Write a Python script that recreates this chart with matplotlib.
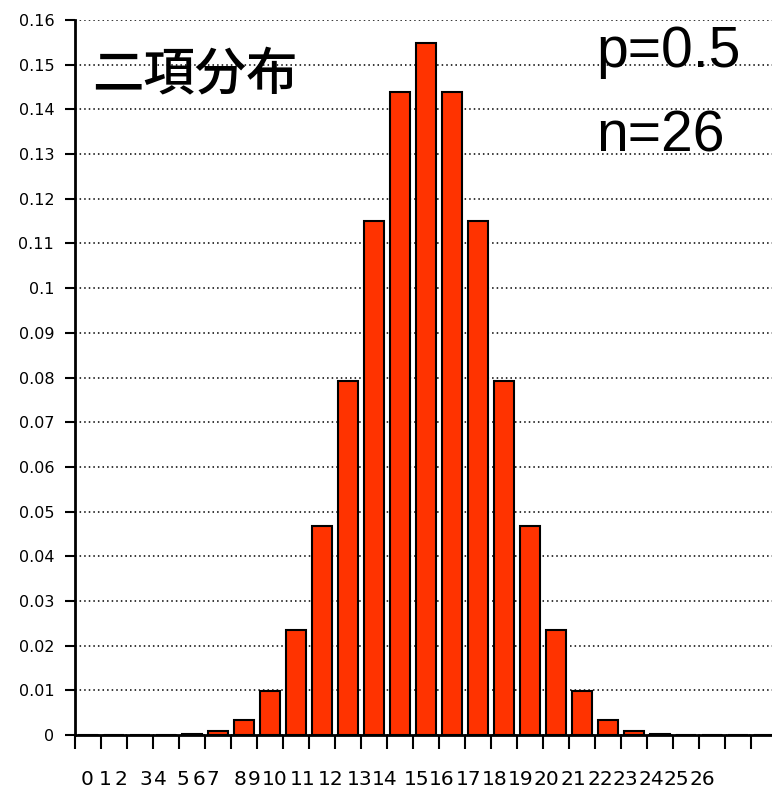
import matplotlib.pyplot as plt
import numpy as np

# Дані: біноміальний розподіл
k = list(range(27))
prob = [0, 0, 0, 0.00004, 0.0002, 0.001, 0.0034, 0.0099, 0.0234, 0.0467,
        0.0792, 0.1151, 0.1439, 0.1549, 0.1439, 0.1151, 0.0792, 0.0467,
        0.0234, 0.0099, 0.0034, 0.001, 0.0002, 0.00004, 0, 0, 0]
x_labels = [str(i) for i in k]
# де стоять підписи осі x (у них зсув, як на оригіналі)
label_pos = [-0.04, 0.65, 1.27, 2.23, 2.77, 3.65, 4.27, 4.81, 5.85, 6.38,
             7.19, 8.27, 9.35, 10.46, 11.42, 12.62, 13.58, 14.65, 15.65,
             16.65, 17.62, 18.65, 19.69, 20.65, 21.65, 22.62, 23.62]
y_ticks = [round(0.01 * i, 2) for i in range(17)]

fig = plt.figure(figsize=(7.72, 7.91), dpi=100)
ax = fig.add_axes([75 / 772, 56 / 791, 697 / 772, 715 / 791])

ax.bar(k, prob, width=0.78, color='#ff3300', edgecolor='black', linewidth=1.5, zorder=3)

ax.set_xlim(-0.5, 26.3)
ax.set_ylim(0, 0.16)

ax.set_yticks(y_ticks)
ax.set_yticklabels([('%g' % v) for v in y_ticks], fontsize=11.5)
ax.yaxis.grid(True, color='black', linestyle=(0, (1, 2)), linewidth=1.1, zorder=0)
ax.set_axisbelow(True)

ax.set_xticks(np.arange(27) - 0.5)
ax.set_xticklabels([])
ax.tick_params(axis='x', direction='out', length=10, width=1.5, color='black')
ax.tick_params(axis='y', direction='out', length=7, width=1.5, color='black', pad=8)

for s in ['top', 'right']:
    ax.spines[s].set_visible(False)
ax.spines['left'].set_linewidth(2)
ax.spines['bottom'].set_linewidth(2)

tr = ax.get_xaxis_transform()
for xp, lab in zip(label_pos, x_labels):
    ax.text(xp, -0.062, lab, transform=tr, ha='center', va='center', fontsize=14.5,
            family='DejaVu Sans')

ax.text(17 / 697, 0.922, '二項分布', transform=ax.transAxes, fontsize=37, weight='medium',
        family=['Noto Sans CJK JP', 'DejaVu Sans'], va='center', ha='left')
ax.text(521 / 697, 0.955, 'p=0.5', transform=ax.transAxes, fontsize=41,
        family='Liberation Sans', va='center', ha='left')
ax.text(521 / 697, 0.837, 'n=26', transform=ax.transAxes, fontsize=41,
        family='Liberation Sans', va='center', ha='left')

plt.savefig('out.png', dpi=100)
